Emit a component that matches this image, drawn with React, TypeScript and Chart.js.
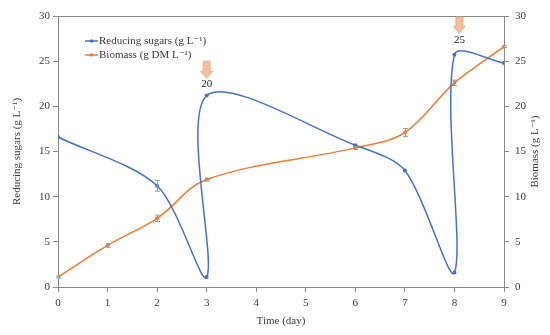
import React, { useEffect, useRef } from 'react';
import { Chart, registerables } from 'chart.js';

Chart.register(...registerables);

// ---- data ----
const sugarDays = [0, 2, 3, 3, 6, 7, 8, 8, 9];
const sugarValues = [16.6, 11.2, 1.1, 21.2, 15.7, 12.9, 1.6, 25.7, 24.8];
const sugarErrors = [0, 0.6, 0, 0, 0, 0, 0, 0, 0];

const biomassDays = [0, 1, 2, 3, 6, 7, 8, 9];
const biomassValues = [1.1, 4.6, 7.6, 11.9, 15.4, 17.1, 22.6, 26.6];
const biomassErrors = [0.1, 0.2, 0.35, 0.15, 0.15, 0.45, 0.3, 0.1];

const arrowDays = [3, 8.1];
const arrowTops = [25.0, 29.9];
const arrowTips = [23.1, 28.1];
const arrowLabels = ['20', '25'];
const arrowLabelValues = [22.45, 27.3];

const sugarLabel = 'Reducing sugars (g L\u207B\u00B9)';
const biomassLegendLabel = 'Biomass (g DM L\u207B\u00B9)';
const leftTitle = 'Reducing sugars (g L\u207B\u00B9)';
const rightTitle = 'Biomass (g L\u207B\u00B9)';
const xTitle = 'Time (day)';

const BLUE = '#4472C4';
const ORANGE = '#ED7D31';
const AXIS = '#8a8a8a';
const TEXT = '#3b3b3b';
const FONT_FAMILY = "'Liberation Serif', 'DejaVu Serif', serif";

const extrasPlugin = {
  id: 'extras',
  afterDatasetsDraw(chart: any) {
    const ctx = chart.ctx;
    const xs = chart.scales.x;
    ctx.save();
    ctx.strokeStyle = '#9a9a9a';
    ctx.lineWidth = 1;
    chart.data.datasets.forEach((ds: any) => {
      const ys = chart.scales[ds.yAxisID];
      const errs: number[] = ds.errors || [];
      ds.data.forEach((p: any, j: number) => {
        const e = errs[j];
        if (!e) return;
        const px = Math.round(xs.getPixelForValue(p.x)) + 0.5;
        const y1 = ys.getPixelForValue(p.y + e);
        const y2 = ys.getPixelForValue(p.y - e);
        ctx.beginPath();
        ctx.moveTo(px, y1);
        ctx.lineTo(px, y2);
        ctx.moveTo(px - 2.5, y1);
        ctx.lineTo(px + 2.5, y1);
        ctx.moveTo(px - 2.5, y2);
        ctx.lineTo(px + 2.5, y2);
        ctx.stroke();
      });
    });
    ctx.restore();
  },
  afterDraw(chart: any) {
    const ctx = chart.ctx;
    const area = chart.chartArea;
    const xs = chart.scales.x;
    const ys = chart.scales.y;
    ctx.save();
    // top border
    ctx.strokeStyle = AXIS;
    ctx.lineWidth = 1;
    ctx.beginPath();
    ctx.moveTo(area.left, Math.round(area.top) + 0.5);
    ctx.lineTo(area.right, Math.round(area.top) + 0.5);
    ctx.stroke();

    // right axis title (reads bottom to top)
    ctx.fillStyle = TEXT;
    ctx.font = `11px ${FONT_FAMILY}`;
    ctx.textAlign = 'center';
    ctx.textBaseline = 'middle';
    ctx.save();
    ctx.translate(area.right + 31, (area.top + area.bottom) / 2);
    ctx.rotate(-Math.PI / 2);
    ctx.fillText(rightTitle, 0, 0);
    ctx.restore();

    // legend
    const items = [
      { label: sugarLabel, color: BLUE },
      { label: biomassLegendLabel, color: ORANGE },
    ];
    items.forEach((it, i) => {
      const y = area.top + 25 + i * 14;
      const x0 = area.left + 27;
      ctx.strokeStyle = it.color;
      ctx.lineWidth = 1.5;
      ctx.beginPath();
      ctx.moveTo(x0, y);
      ctx.lineTo(x0 + 13, y);
      ctx.stroke();
      ctx.fillStyle = it.color;
      ctx.beginPath();
      ctx.arc(x0 + 6.5, y, 1.8, 0, Math.PI * 2);
      ctx.fill();
      ctx.fillStyle = TEXT;
      ctx.textAlign = 'left';
      ctx.textBaseline = 'middle';
      ctx.font = `11px ${FONT_FAMILY}`;
      ctx.fillText(it.label, x0 + 14, y);
    });

    // arrows & labels
    arrowDays.forEach((d, i) => {
      const cx = xs.getPixelForValue(d);
      const top = ys.getPixelForValue(arrowTops[i]);
      const tip = ys.getPixelForValue(arrowTips[i]);
      const headLen = 7;
      const shaftW = 3.5;
      const headW = 6;
      ctx.beginPath();
      ctx.moveTo(cx - shaftW, top);
      ctx.lineTo(cx + shaftW, top);
      ctx.lineTo(cx + shaftW, tip - headLen);
      ctx.lineTo(cx + headW, tip - headLen);
      ctx.lineTo(cx, tip);
      ctx.lineTo(cx - headW, tip - headLen);
      ctx.lineTo(cx - shaftW, tip - headLen);
      ctx.closePath();
      ctx.fillStyle = '#F6BE9C';
      ctx.fill();
      ctx.strokeStyle = '#D9A98C';
      ctx.lineWidth = 0.8;
      ctx.stroke();
      ctx.fillStyle = '#222';
      ctx.font = `11px ${FONT_FAMILY}`;
      ctx.textAlign = 'center';
      ctx.textBaseline = 'middle';
      ctx.fillText(arrowLabels[i], cx, ys.getPixelForValue(arrowLabelValues[i]));
    });
    ctx.restore();
  },
};

export default function App() {
  const ref = useRef<HTMLCanvasElement | null>(null);
  useEffect(() => {
    if (!ref.current) return;
    const font = { family: FONT_FAMILY, size: 11 };
    const chart = new Chart(ref.current, {
      type: 'scatter',
      data: {
        datasets: [
          {
            label: sugarLabel,
            data: sugarDays.map((x, i) => ({ x, y: sugarValues[i] })),
            errors: sugarErrors,
            yAxisID: 'y',
            showLine: true,
            tension: 0.3,
            borderColor: BLUE,
            backgroundColor: BLUE,
            borderWidth: 1.5,
            pointRadius: 2,
            pointBorderWidth: 0,
          } as any,
          {
            label: biomassLegendLabel,
            data: biomassDays.map((x, i) => ({ x, y: biomassValues[i] })),
            errors: biomassErrors,
            yAxisID: 'y2',
            showLine: true,
            tension: 0.35,
            borderColor: ORANGE,
            backgroundColor: ORANGE,
            borderWidth: 1.5,
            pointRadius: 2,
            pointBorderWidth: 0,
          } as any,
        ],
      },
      options: {
        animation: false,
        responsive: true,
        maintainAspectRatio: false,
        layout: { padding: { top: 16, left: 0, right: 0, bottom: 0 } },
        plugins: { legend: { display: false }, tooltip: { enabled: false } },
        scales: {
          x: {
            type: 'linear',
            min: 0,
            max: 9,
            ticks: { stepSize: 1, font, color: TEXT, padding: 5 },
            grid: { drawOnChartArea: false, tickLength: 5, color: AXIS },
            border: { color: AXIS },
            title: { display: true, text: xTitle, font, color: TEXT, padding: { top: 0, bottom: 7 } },
            afterFit: (s: any) => { s.height = 48; },
          },
          y: {
            position: 'left',
            min: 0,
            max: 30,
            ticks: { stepSize: 5, font, color: TEXT, padding: 3 },
            grid: { drawOnChartArea: false, tickLength: 5, color: AXIS },
            border: { color: AXIS },
            title: { display: true, text: leftTitle, font, color: TEXT, padding: { top: 11, bottom: 0 } },
            afterFit: (s: any) => { s.width = 58; },
          },
          y2: {
            position: 'right',
            min: 0,
            max: 30,
            ticks: { stepSize: 5, font, color: TEXT, padding: 6 },
            grid: { drawOnChartArea: false, tickLength: 5, color: AXIS },
            border: { color: AXIS },
            afterFit: (s: any) => { s.width = 46; },
          },
        },
      } as any,
      plugins: [extrasPlugin],
    });
    return () => chart.destroy();
  }, []);
  return (
    <div style={{ position: 'fixed', left: 0, top: 0, width: 550, height: 335, background: '#fff' }}>
      <canvas ref={ref} />
    </div>
  );
}
